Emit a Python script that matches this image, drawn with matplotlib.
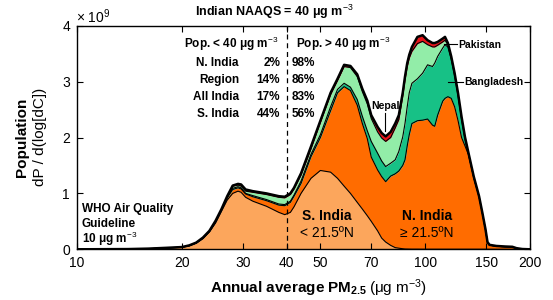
import matplotlib
matplotlib.use('Agg')
import matplotlib.pyplot as plt
import numpy as np

plt.rcParams['font.family'] = ['Liberation Sans', 'DejaVu Sans']
plt.rcParams['mathtext.fontset'] = 'custom'
plt.rcParams['mathtext.rm'] = 'Liberation Sans'
plt.rcParams['mathtext.bf'] = 'Liberation Sans:bold'
plt.rcParams['mathtext.it'] = 'Liberation Sans:italic'

# PM2.5 concentration (ug m-3) grid
pm = [10, 14, 16, 18, 20, 21, 22, 23, 24, 25, 26, 27, 28, 29, 29.6, 30.5, 32, 35, 38, 39.5,
      41, 42, 44, 47, 50, 53.5, 56, 58.5, 61, 63.8, 66, 68.2, 70, 73, 75, 77, 79.6, 82, 84, 86.2,
      87.5, 88.8, 90, 91.6, 95, 98.3, 101.6, 105, 106.5, 108.6, 112.3, 114, 116.2, 118.8, 121.5, 124.3, 127.2, 130.1, 133.2, 137.9,
      142.8, 146, 149, 151, 153, 160, 170, 178, 183, 190, 200]

# cumulative population density (x 1e9)
s_india = [0, 0.003, 0.01, 0.022, 0.035, 0.06, 0.11, 0.19, 0.31, 0.47, 0.68, 0.88, 1.0, 1.04, 1.02, 0.93, 0.86, 0.77, 0.66, 0.62,
           0.66, 0.76, 1.0, 1.27, 1.41, 1.38, 1.27, 1.13, 1.0, 0.84, 0.72, 0.6, 0.5, 0.33, 0.2, 0.13, 0.07, 0.03, 0.02, 0.01,
           0.005, 0.004, 0.003, 0.002, 0.002, 0.001, 0.001, 0.001, 0.001, 0.001, 0.001, 0.001, 0.001, 0.001, 0.001, 0.001, 0.001, 0.001, 0.001, 0.001,
           0.001, 0.001, 0.001, 0.001, 0.001, 0, 0, 0, 0, 0, 0]
all_india = [0, 0.003, 0.01, 0.023, 0.037, 0.065, 0.115, 0.2, 0.32, 0.49, 0.7, 0.92, 1.07, 1.10, 1.08, 0.99, 0.94, 0.87, 0.79, 0.78,
             0.84, 0.95, 1.18, 1.66, 2.0, 2.48, 2.8, 2.91, 2.84, 2.58, 2.25, 1.98, 1.65, 1.42, 1.3, 1.21, 1.31, 1.35, 1.4, 1.5,
             1.6, 1.85, 2.05, 2.25, 2.30, 2.31, 2.33, 2.22, 2.20, 2.40, 2.65, 2.70, 2.73, 2.70, 2.55, 2.30, 2.0, 1.85, 1.69, 1.28,
             0.94, 0.64, 0.35, 0.12, 0.075, 0.055, 0.045, 0.04, 0.018, 0.004, 0]
w_bangladesh = [0, 0.003, 0.01, 0.023, 0.037, 0.065, 0.115, 0.2, 0.32, 0.49, 0.7, 0.93, 1.09, 1.12, 1.10, 1.0, 0.96, 0.89, 0.81, 0.80,
                0.86, 0.97, 1.22, 1.70, 2.05, 2.55, 2.86, 2.97, 2.90, 2.68, 2.38, 2.12, 1.93, 1.72, 1.58, 1.48, 1.54, 1.60, 1.75, 2.01,
                2.25, 2.55, 2.8, 2.97, 3.05, 3.15, 3.30, 3.27, 3.33, 3.45, 3.60, 3.66, 3.62, 3.40, 3.10, 2.74, 2.32, 1.97, 1.70, 1.28,
                0.94, 0.64, 0.35, 0.12, 0.075, 0.055, 0.045, 0.04, 0.018, 0.004, 0]
w_pakistan = [0, 0.004, 0.012, 0.025, 0.039, 0.068, 0.118, 0.205, 0.325, 0.5, 0.71, 0.94, 1.13, 1.15, 1.13, 1.04, 1.02, 0.98, 0.93, 0.92,
              0.98, 1.08, 1.33, 1.80, 2.27, 2.77, 3.02, 3.27, 3.25, 3.09, 2.82, 2.6, 2.34, 2.1, 1.99, 1.93, 2.0, 2.17, 2.32, 2.74,
              3.03, 3.27, 3.42, 3.54, 3.68, 3.72, 3.66, 3.62, 3.62, 3.65, 3.71, 3.74, 3.66, 3.43, 3.13, 2.77, 2.35, 2.0, 1.71, 1.29,
              0.95, 0.64, 0.35, 0.12, 0.075, 0.055, 0.045, 0.04, 0.018, 0.004, 0]
total = [0, 0.004, 0.012, 0.026, 0.04, 0.07, 0.12, 0.21, 0.33, 0.51, 0.72, 0.95, 1.14, 1.17, 1.16, 1.07, 1.04, 1.0, 0.95, 0.94,
         1.0, 1.1, 1.36, 1.84, 2.3, 2.8, 3.05, 3.30, 3.28, 3.13, 2.87, 2.66, 2.40, 2.19, 2.08, 2.02, 2.10, 2.25, 2.4, 2.8,
         3.09, 3.33, 3.48, 3.62, 3.80, 3.83, 3.74, 3.69, 3.69, 3.71, 3.77, 3.80, 3.69, 3.45, 3.15, 2.79, 2.37, 2.01, 1.72, 1.30,
         0.95, 0.65, 0.36, 0.13, 0.08, 0.06, 0.05, 0.045, 0.02, 0.005, 0]

xticks = [10, 20, 30, 40, 50, 70, 100, 150, 200]
yticks = [0, 1, 2, 3, 4]

c_s = '#fca65c'
c_n = '#ff6c00'
c_bd = '#17c186'
c_pk = '#92eda8'
c_np = '#e8151b'

W, H = 553, 300
fig = plt.figure(figsize=(W / 100, H / 100), dpi=100)
ax = fig.add_axes([77 / W, 1 - 249.3 / H, (530 - 77) / W, (249.3 - 25.7) / H])

layers = [np.zeros(len(pm)), s_india, all_india, w_bangladesh, w_pakistan, total]
cols = [c_s, c_n, c_bd, c_pk, c_np]
for lo, hi, c in zip(layers[:-1], layers[1:], cols):
    ax.fill_between(pm, lo, hi, color=c, lw=0)
for ln in layers[1:-1]:
    ax.plot(pm, ln, color='k', lw=0.8)
ax.plot(pm, total, color='k', lw=1.8)

ax.axvline(40, color='k', lw=0.9, ls=(0, (4, 3)))

ax.set_xscale('log')
ax.set_xlim(10, 200)
ax.set_ylim(0, 4)
ax.set_xticks(xticks)
ax.set_xticklabels([str(v) for v in xticks])
ax.xaxis.set_minor_locator(matplotlib.ticker.NullLocator())
ax.set_yticks(yticks)
ax.tick_params(direction='in', length=4, width=0.8, top=True, right=True, labelsize=10, pad=5)
for sp in ax.spines.values():
    sp.set_linewidth(1.0)


def t(x, y, s, **kw):
    fig.text(x / W, 1 - y / H, s, **kw)


t(76, 17, r'$\times$ 10$^9$', fontsize=10, va='center')
t(274, 12, r'Indian NAAQS = 40 μg m$^{-3}$', fontsize=9, fontweight='bold', ha='center', va='center')

t(278, 44, r'Pop. < 40 μg m$^{-3}$', fontsize=8.5, fontweight='bold', ha='right', va='center')
t(296, 44, r'Pop. > 40 μg m$^{-3}$', fontsize=8.5, fontweight='bold', ha='left', va='center')
rows = [('N. India', '2%', '98%'), ('Region', '14%', '86%'),
        ('All India', '17%', '83%'), ('S. India', '44%', '56%')]
for i, (nm, lo, hi) in enumerate(rows):
    yy = 63.5 + i * 16.8
    t(239, yy, nm, fontsize=8.5, fontweight='bold', ha='right', va='center')
    t(280, yy, lo, fontsize=8.5, fontweight='bold', ha='right', va='center')
    t(292, yy, hi, fontsize=8.5, fontweight='bold', ha='left', va='center')

t(385, 106, 'Nepal', fontsize=7.5, fontweight='bold', ha='center', va='center')
fig.add_artist(plt.Line2D([385 / W, 385 / W], [1 - 113 / H, 1 - 131 / H], color='k', lw=0.8))
t(458, 45, 'Pakistan', fontsize=7.5, fontweight='bold', ha='left', va='center')
fig.add_artist(plt.Line2D([444 / W, 457 / W], [1 - 44 / H, 1 - 44 / H], color='k', lw=0.8))
t(464, 82, 'Bangladesh', fontsize=7.5, fontweight='bold', ha='left', va='center')
fig.add_artist(plt.Line2D([448 / W, 463 / W], [1 - 82 / H, 1 - 82 / H], color='k', lw=0.8))

t(327, 216, 'S. India', fontsize=10, fontweight='bold', ha='center', va='center')
t(327, 233, '< 21.5ºN', fontsize=10, ha='center', va='center')
t(427, 216, 'N. India', fontsize=10, fontweight='bold', ha='center', va='center')
t(427, 233, '≥ 21.5ºN', fontsize=10, ha='center', va='center')

t(82, 209, 'WHO Air Quality', fontsize=8.5, fontweight='bold', ha='left', va='center')
t(82, 224, 'Guideline', fontsize=8.5, fontweight='bold', ha='left', va='center')
t(82, 239, r'10 μg m$^{-3}$', fontsize=8.5, fontweight='bold', ha='left', va='center')

t(367, 288, r'Annual average PM$_{\mathbf{2.5}}$', fontsize=11, fontweight='bold', ha='right', va='center')
t(369, 288, r'(μg m$^{-3}$)', fontsize=11, ha='left', va='center')
t(22, 137, 'Population', fontsize=11, fontweight='bold', rotation=90, ha='center', va='center')
t(40, 137, 'dP / d(log[dC])', fontsize=11, rotation=90, ha='center', va='center')

fig.savefig('out.png', dpi=100)
